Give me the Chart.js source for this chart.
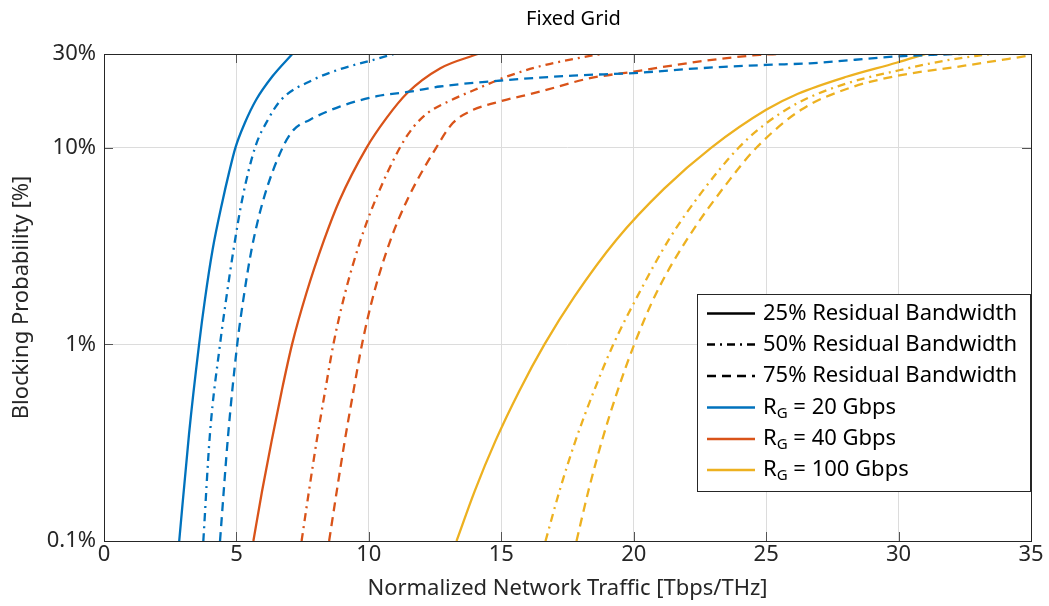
<!DOCTYPE html>
<html><head><meta charset="utf-8">
<script src="https://cdn.jsdelivr.net/npm/chart.js@4"></script>
<style>html,body{margin:0;padding:0;background:#fff}</style>
</head><body>
<canvas id="c" width="1049" height="606"></canvas>
<script>
// ---- data ----
const xTickValues = [0, 5, 10, 15, 20, 25, 30, 35];
const yTickValues = [0.1, 1, 10, 30];
const yTickLabels = ['0.1%', '1%', '10%', '30%'];

// R_G = 20 Gbps
const b25x = [2.84, 3.21, 3.59, 3.81, 4.1, 4.48, 4.71, 4.96, 5.32, 5.74, 6.36, 7.11];
const b25y = [0.1, 0.35, 1.0, 1.69, 3.03, 5.4, 7.37, 10, 13.4, 17.5, 23.1, 30];
const b50x = [3.75, 4.0, 4.38, 4.61, 4.89, 5.21, 5.70, 6.19, 6.68, 7.90, 8.91, 10.04, 10.95];
const b50y = [0.1, 0.35, 1.0, 1.69, 3.03, 5.4, 10, 13.9, 17.5, 22.2, 25.1, 27.7, 30];
const b75x = [4.38, 4.69, 5.03, 5.26, 5.57, 6.01, 6.74, 7.15, 7.78, 8.9, 10.3, 11.55, 12.68, 15, 17.7, 20, 22.5, 25, 26.65, 30, 31.3, 33, 35];
const b75y = [0.1, 0.35, 1.0, 1.69, 3.03, 5.4, 10, 12.3, 13.9, 16.2, 18.3, 19.3, 20.5, 22.0, 23.3, 24.0, 25.4, 26.4, 26.9, 29.2, 29.7, 30.2, 30.8];

// R_G = 40 Gbps
const o25x = [5.64, 5.97, 6.33, 6.71, 7.10, 7.64, 8.31, 8.89, 9.91, 10.67, 11.45, 12.70, 14.11];
const o25y = [0.1, 0.18, 0.323, 0.58, 1.0, 1.82, 3.4, 5.4, 10, 14.2, 19.0, 25.4, 30];
const o50x = [7.46, 7.74, 8.03, 8.35, 8.66, 9.10, 9.69, 10.24, 11.17, 11.66, 12.23, 13.06, 14.0, 15.14, 16.46, 18.08, 18.76];
const o50y = [0.1, 0.18, 0.323, 0.58, 1.0, 1.82, 3.4, 5.4, 10, 12.64, 15.07, 17.35, 19.73, 22.85, 25.99, 28.88, 30];
const o75x = [8.5, 8.79, 9.09, 9.42, 9.74, 10.19, 10.82, 11.44, 12.54, 13.17, 13.94, 14.76, 16.46, 18.35, 20.0, 22.5, 24.76, 25.5];
const o75y = [0.1, 0.18, 0.323, 0.58, 1.0, 1.82, 3.4, 5.4, 10, 13.36, 15.6, 16.94, 19.3, 22.6, 24.4, 27.5, 29.7, 30];

// R_G = 100 Gbps
const y25x = [13.31, 14.0, 14.78, 15.68, 16.63, 17.76, 19.34, 21.15, 22.92, 25.0, 26.2, 28.03, 29.92, 31.02];
const y25y = [0.1, 0.18, 0.323, 0.58, 1.0, 1.75, 3.4, 6.2, 10, 15.6, 18.83, 22.98, 27.08, 30];
const y50x = [16.67, 17.2, 17.8, 18.5, 19.23, 20.2, 21.32, 22.54, 23.96, 24.93, 26.21, 28.0, 30.02, 31.94, 33.48];
const y50y = [0.1, 0.18, 0.323, 0.58, 1.0, 1.82, 3.4, 5.88, 10, 13.1, 16.94, 21.17, 24.8, 28.04, 30];
const y75x = [17.84, 18.29, 18.8, 19.39, 20.02, 20.85, 22.0, 23.62, 24.63, 26.32, 28.17, 29.97, 32.49, 35.0];
const y75y = [0.1, 0.18, 0.323, 0.58, 1.0, 1.82, 3.4, 6.87, 10, 15.61, 20.2, 23.25, 26.15, 29.56];

const styleLabels = ['25% Residual Bandwidth', '50% Residual Bandwidth', '75% Residual Bandwidth'];
const rateLabels = ['20 Gbps', '40 Gbps', '100 Gbps'];

// ---- styles ----
const COLORS = ['#0072BD', '#D95319', '#EDB120'];
const DASHES = [[], [8, 5, 2, 5], [9, 6]];
const FONT = '"Noto Sans", "Open Sans", sans-serif';
const LW = 2.3;

const seriesX = [[b25x, b50x, b75x], [o25x, o50x, o75x], [y25x, y50x, y75x]];
const seriesY = [[b25y, b50y, b75y], [o25y, o50y, o75y], [y25y, y50y, y75y]];

const datasets = [];
for (let c = 0; c < 3; c++) {
  for (let s = 0; s < 3; s++) {
    const xs = seriesX[c][s], ys = seriesY[c][s];
    datasets.push({
      data: xs.map((x, i) => ({x: x, y: ys[i]})),
      borderColor: COLORS[c],
      borderWidth: LW,
      borderDash: DASHES[s],
      pointRadius: 0,
      fill: false,
      cubicInterpolationMode: 'monotone'
    });
  }
}

const framePlugin = {
  id: 'frame',
  afterDatasetsDraw(chart) {
    const {ctx, chartArea: a, scales} = chart;
    ctx.save();
    ctx.strokeStyle = '#555';
    ctx.lineWidth = 1;
    const tl = 9;
    ctx.beginPath();
    xTickValues.forEach(v => {
      const px = Math.round(scales.x.getPixelForValue(v)) + 0.5;
      ctx.moveTo(px, a.bottom); ctx.lineTo(px, a.bottom - tl);
      ctx.moveTo(px, a.top); ctx.lineTo(px, a.top + tl);
    });
    yTickValues.forEach(v => {
      const py = Math.round(scales.y.getPixelForValue(v)) + 0.5;
      ctx.moveTo(a.left, py); ctx.lineTo(a.left + tl, py);
      ctx.moveTo(a.right, py); ctx.lineTo(a.right - tl, py);
    });
    ctx.stroke();
    ctx.strokeStyle = '#262626';
    ctx.strokeRect(Math.round(a.left) + 0.5, Math.round(a.top) + 0.5,
      Math.round(a.right - a.left), Math.round(a.bottom - a.top));
    // title
    ctx.fillStyle = '#000';
    ctx.font = '20px ' + FONT;
    ctx.textAlign = 'center';
    ctx.textBaseline = 'middle';
    ctx.fillText('Fixed Grid', (a.left + a.right) / 2 + 6, 19);
    ctx.restore();
  },
  afterDraw(chart) {
    const ctx = chart.ctx;
    ctx.save();
    const bx = 697.5, by = 294.5, bw = 333, bh = 197;
    ctx.fillStyle = '#fff';
    ctx.fillRect(bx, by, bw, bh);
    ctx.strokeStyle = '#262626';
    ctx.lineWidth = 1;
    ctx.strokeRect(bx, by, bw, bh);
    const rows = [313.5, 344.5, 376, 407.5, 439, 470];
    const lx0 = 707, lx1 = 755, tx = 763;
    ctx.textAlign = 'left';
    ctx.textBaseline = 'middle';
    for (let i = 0; i < 6; i++) {
      const y = rows[i];
      ctx.beginPath();
      ctx.lineWidth = LW;
      if (i < 3) { ctx.strokeStyle = '#000'; ctx.setLineDash(DASHES[i]); }
      else { ctx.strokeStyle = COLORS[i - 3]; ctx.setLineDash([]); }
      ctx.moveTo(lx0, y); ctx.lineTo(lx1, y);
      ctx.stroke();
      ctx.setLineDash([]);
      ctx.fillStyle = '#000';
      ctx.font = '22px ' + FONT;
      if (i < 3) {
        ctx.fillText(styleLabels[i], tx, y);
      } else {
        let x = tx;
        ctx.fillText('R', x, y);
        x += ctx.measureText('R').width;
        ctx.font = '15px ' + FONT;
        ctx.fillText('G', x, y + 6);
        x += ctx.measureText('G').width;
        ctx.font = '22px ' + FONT;
        ctx.fillText(' = ' + rateLabels[i - 3], x, y);
      }
    }
    ctx.restore();
  }
};

new Chart(document.getElementById('c'), {
  type: 'line',
  data: {datasets},
  plugins: [framePlugin],
  options: {
    responsive: false,
    animation: false,
    devicePixelRatio: 1,
    layout: {padding: {left: 0, right: 18, top: 54, bottom: 0}},
    plugins: {legend: {display: false}, tooltip: {enabled: false}, title: {display: false}},
    scales: {
      x: {
        type: 'linear', min: 0, max: 35,
        ticks: {stepSize: 5, color: '#262626', font: {family: FONT, size: 22}, padding: 1, maxRotation: 0},
        grid: {color: '#dcdcdc', drawTicks: false},
        border: {display: false},
        title: {display: true, text: 'Normalized Network Traffic [Tbps/THz]', color: '#262626',
                font: {family: FONT, size: 22}, padding: {top: 0, bottom: 4}},
        afterFit(s) { s.height = 65; }
      },
      y: {
        type: 'logarithmic', min: 0.1, max: 30,
        afterBuildTicks(s) { s.ticks = yTickValues.map(v => ({value: v})); },
        ticks: {color: '#262626', font: {family: FONT, size: 22}, padding: 8,
                callback: (v) => { const i = yTickValues.indexOf(v); return i >= 0 ? yTickLabels[i] : ''; }},
        grid: {color: '#dcdcdc', drawTicks: false},
        border: {display: false},
        title: {display: true, text: 'Blocking Probability [%]', color: '#262626',
                font: {family: FONT, size: 22}, padding: {top: 9, bottom: 0}},
        afterFit(s) { s.width = 104; }
      }
    }
  }
});
</script>
</body></html>
